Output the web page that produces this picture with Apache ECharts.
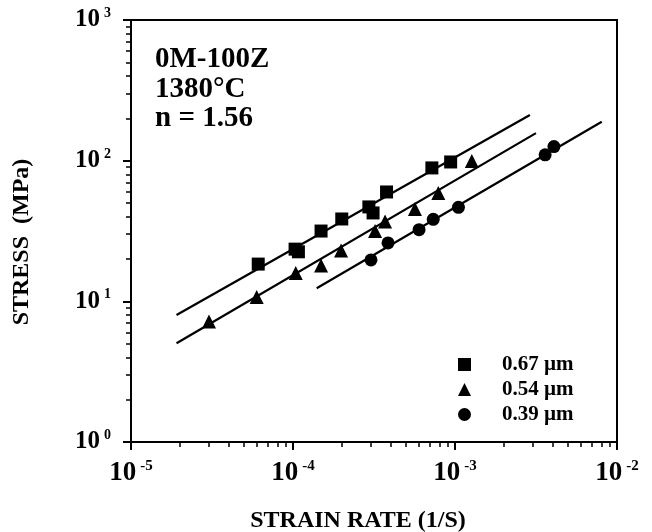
<!DOCTYPE html>
<html>
<head>
<meta charset="utf-8">
<script src="https://cdn.jsdelivr.net/npm/echarts@6/dist/echarts.min.js"></script>
<style>
  html, body { margin: 0; padding: 0; background: #fff; }
  #chart { width: 652px; height: 532px; }
</style>
</head>
<body>
<div id="chart"></div>
<script>
// strain rate (1/s) vs stress (MPa)
var sqRate   = [6.1e-5, 1.03e-4, 1.08e-4, 1.49e-4, 2.0e-4, 2.94e-4, 3.12e-4, 3.78e-4, 7.2e-4, 9.4e-4];
var sqStress = [18.4, 23.5, 22.5, 31.6, 38.5, 46.9, 42.5, 59.9, 88.8, 97.9];
var trRate   = [3.03e-5, 5.97e-5, 1.04e-4, 1.49e-4, 1.98e-4, 3.21e-4, 3.7e-4, 5.66e-4, 7.89e-4, 1.27e-3];
var trStress = [7.2, 10.75, 15.9, 18.0, 23.0, 31.6, 37.0, 45.4, 58.9, 99.5];
var ciRate   = [3.03e-4, 3.86e-4, 6.0e-4, 7.34e-4, 1.05e-3, 3.6e-3, 4.08e-3];
var ciStress = [19.7, 26.0, 32.3, 38.3, 46.6, 110, 126];

// fitted lines: [start, end]
var sqFitRate = [1.91e-5, 2.9e-3],  sqFitStress = [8.0, 211];
var trFitRate = [1.91e-5, 3.16e-3], trFitStress = [5.04, 157];
var ciFitRate = [1.4e-4, 8.05e-3],  ciFitStress = [12.4, 189];

var seriesNames = ['0.67 µm', '0.54 µm', '0.39 µm'];
var xMajor = [1e-5, 1e-4, 1e-3, 1e-2];
var yMajor = [1, 10, 100, 1000];
var noteLines = ['0M-100Z', '1380°C', 'n = 1.56'];

function minors(majors) {
  var out = [];
  for (var i = 0; i < majors.length - 1; i++) {
    for (var k = 2; k <= 9; k++) out.push(majors[i] * k);
  }
  return out;
}
function pairs(a, b) {
  return a.map(function (v, i) { return [v, b[i]]; });
}
function powLabel(v) {
  var e = Math.round(Math.log10(v));
  return '{b|10}{s|' + (e < 0 ? '-' + (-e) : e) + '}';
}

var FONT = 'Liberation Serif';
var black = '#000';

var chart = echarts.init(document.getElementById('chart'));

var labelRich = function (size, sup) {
  return {
    b: { fontFamily: FONT, fontWeight: 'bold', fontSize: size, color: black, lineHeight: size + 2 },
    s: { fontFamily: FONT, fontWeight: 'bold', fontSize: sup, color: black, verticalAlign: 'top', padding: [0, 0, 0, 4] }
  };
};

var option = {
  animation: false,
  backgroundColor: '#fff',
  title: {
    text: noteLines.join('\n'),
    left: 150,
    top: 40,
    textStyle: { fontFamily: FONT, fontWeight: 'bold', fontSize: 29, color: black, lineHeight: 29.5 }
  },
  legend: {
    orient: 'vertical',
    left: 453,
    top: 349,
    itemWidth: 13,
    itemHeight: 13,
    itemGap: 4,
    data: seriesNames,
    textStyle: { fontFamily: FONT, fontWeight: 'bold', fontSize: 21, color: black, lineHeight: 21, padding: [0, 0, 0, 26] }
  },
  grid: {
    left: 131, right: 35, top: 20, bottom: 90,
    outerBoundsMode: 'none', containLabel: false,
    show: true, borderColor: black, borderWidth: 2, backgroundColor: 'transparent'
  },
  xAxis: [{
    type: 'log', logBase: 10, min: 1e-5, max: 1e-2,
    name: 'STRAIN RATE (1/S)', nameLocation: 'middle', nameGap: 67,
    nameTextStyle: { fontFamily: FONT, fontWeight: 'bold', fontSize: 24, color: black, padding: [0, 32, 0, 0] },
    axisLine: { lineStyle: { color: black, width: 2 } },
    axisTick: { show: true, length: 5, customValues: minors(xMajor), lineStyle: { color: black, width: 1.5 } },
    axisLabel: { customValues: xMajor, margin: 17, hideOverlap: false, formatter: powLabel, rich: labelRich(27, 15) },
    splitLine: { show: false }, minorSplitLine: { show: false }
  }, {
    type: 'log', logBase: 10, min: 1e-5, max: 1e-2, position: 'bottom',
    axisLine: { show: false },
    axisTick: { show: true, length: 8, customValues: xMajor, lineStyle: { color: black, width: 2 } },
    axisLabel: { show: false },
    splitLine: { show: false }
  }],
  yAxis: [{
    type: 'log', logBase: 10, min: 1, max: 1000,
    name: 'STRESS  (MPa)', nameLocation: 'middle', nameGap: 97,
    nameTextStyle: { fontFamily: FONT, fontWeight: 'bold', fontSize: 24, color: black, padding: [0, 22, 0, 0] },
    axisLine: { lineStyle: { color: black, width: 2 } },
    axisTick: { show: true, length: 5, customValues: minors(yMajor), lineStyle: { color: black, width: 1.5 } },
    axisLabel: { customValues: yMajor, margin: 20, hideOverlap: false, formatter: powLabel, rich: labelRich(25, 14) },
    splitLine: { show: false }
  }, {
    type: 'log', logBase: 10, min: 1, max: 1000, position: 'left',
    axisLine: { show: false },
    axisTick: { show: true, length: 8, customValues: yMajor, lineStyle: { color: black, width: 2 } },
    axisLabel: { show: false },
    splitLine: { show: false }
  }],
  series: [
    { name: seriesNames[0], type: 'scatter', symbol: 'rect', symbolSize: 13, itemStyle: { color: black, opacity: 1 }, data: pairs(sqRate, sqStress), z: 5 },
    { name: seriesNames[1], type: 'scatter', symbol: 'triangle', symbolSize: 14, itemStyle: { color: black, opacity: 1 }, data: pairs(trRate, trStress), z: 5 },
    { name: seriesNames[2], type: 'scatter', symbol: 'circle', symbolSize: 13, itemStyle: { color: black, opacity: 1 }, data: pairs(ciRate, ciStress), z: 5 },
    { type: 'line', showSymbol: false, symbol: 'none', lineStyle: { color: black, width: 2.2 }, data: pairs(sqFitRate, sqFitStress) },
    { type: 'line', showSymbol: false, symbol: 'none', lineStyle: { color: black, width: 2.2 }, data: pairs(trFitRate, trFitStress) },
    { type: 'line', showSymbol: false, symbol: 'none', lineStyle: { color: black, width: 2.2 }, data: pairs(ciFitRate, ciFitStress) }
  ]
};

chart.setOption(option);
</script>
</body>
</html>
